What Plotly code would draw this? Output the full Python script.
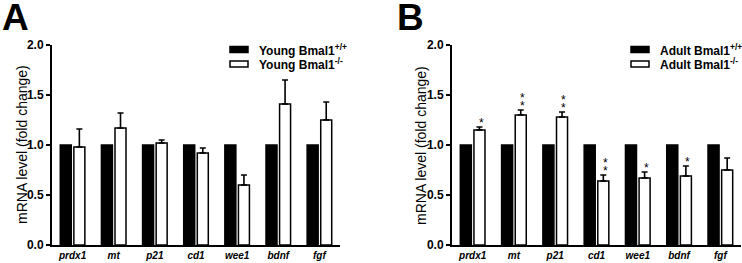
import plotly.graph_objects as go

W, H = 742, 263

genes = ["prdx1", "mt", "p21", "cd1", "wee1", "bdnf", "fgf"]
ctrl_values = [1, 1, 1, 1, 1, 1, 1]
young_ko = [0.98, 1.17, 1.02, 0.92, 0.60, 1.41, 1.25]
young_ko_err = [0.18, 0.15, 0.03, 0.05, 0.10, 0.24, 0.18]
adult_ko = [1.15, 1.30, 1.28, 0.64, 0.67, 0.69, 0.75]
adult_ko_err = [0.03, 0.05, 0.05, 0.06, 0.06, 0.10, 0.12]
adult_sig = ["*", "**", "**", "**", "*", "*", ""]
y_ticks = [0.0, 0.5, 1.0, 1.5, 2.0]
legend_a = ["Young Bmal1<sup>+/+</sup>", "Young Bmal1<sup>-/-</sup>"]
legend_b = ["Adult Bmal1<sup>+/+</sup>", "Adult Bmal1<sup>-/-</sup>"]
panel_labels = ["A", "B"]
y_title = "mRNA level (fold change)"

FONT = "Liberation Sans, Arial, sans-serif"

def px_x(x):
    return x / W

def px_y(y):
    return 1 - y / H

fig = go.Figure()

panels = [
    dict(xa="x", ya="y", ko=young_ko, err=young_ko_err),
    dict(xa="x2", ya="y2", ko=adult_ko, err=adult_ko_err),
]

for p in panels:
    fig.add_trace(go.Bar(
        x=genes, y=ctrl_values, xaxis=p["xa"], yaxis=p["ya"],
        marker=dict(color="black", line=dict(color="black", width=1.5)),
        showlegend=False,
    ))
    fig.add_trace(go.Bar(
        x=genes, y=p["ko"], xaxis=p["xa"], yaxis=p["ya"],
        marker=dict(color="white", line=dict(color="black", width=1.5)),
        error_y=dict(type="data", symmetric=False, array=p["err"],
                     arrayminus=[0] * len(genes), color="black",
                     thickness=1.6, width=3),
        showlegend=False,
    ))

ydom = [px_y(245), px_y(45)]
axis_common = dict(showline=True, linecolor="black", linewidth=2,
                   showgrid=False, zeroline=False, automargin=False)
xtickfont = dict(size=10, style="italic", weight="bold")
ytick_common = dict(range=[0, 2], tickvals=y_ticks,
                    ticktext=[f"{v:.1f}" for v in y_ticks], ticks="outside",
                    ticklen=4, tickwidth=1.5, tickcolor="black",
                    tickfont=dict(size=12, weight="bold"))

fig.update_layout(
    width=W, height=H,
    margin=dict(l=0, r=0, t=0, b=0, autoexpand=False),
    paper_bgcolor="white", plot_bgcolor="white",
    barmode="group", bargap=0.34, bargroupgap=0.19,
    font=dict(family=FONT, color="black"),
    xaxis=dict(domain=[px_x(52), px_x(340)], anchor="y", range=[-0.5, 6.5],
               ticks="", tickfont=xtickfont, **axis_common),
    yaxis=dict(domain=ydom, anchor="x", **ytick_common, **axis_common),
    xaxis2=dict(domain=[px_x(452), px_x(741)], anchor="y2", range=[-0.5, 6.5],
                ticks="", tickfont=xtickfont, **axis_common),
    yaxis2=dict(domain=ydom, anchor="x2", **ytick_common, **axis_common),
)

annotations = []
shapes = []

# significance stars (panel B)
for g, v, e, s in zip(genes, adult_ko, adult_ko_err, adult_sig):
    for k in range(len(s)):
        annotations.append(dict(
            x=g, y=v + e, xref="x2", yref="y2", text="*", showarrow=False,
            xshift=8.5, yshift=4 + 8 * k, yanchor="middle",
            font=dict(size=12, color="black"),
        ))

# panel labels
for lab, xp in zip(panel_labels, [0, 395]):
    annotations.append(dict(
        x=px_x(xp), y=px_y(17), xref="paper", yref="paper", text=f"<b>{lab}</b>",
        showarrow=False, xanchor="left", yanchor="middle",
        font=dict(size=37, color="black"),
    ))

# y axis titles
for xc in [22, 421]:
    annotations.append(dict(
        x=px_x(xc), y=px_y(145), xref="paper", yref="paper", text=y_title,
        showarrow=False, textangle=-90, xanchor="center", yanchor="middle",
        font=dict(size=14, color="black"),
    ))

# legends
for leg, x0 in zip([legend_a, legend_b], [230, 631]):
    for i, (txt, fill) in enumerate(zip(leg, ["black", "white"])):
        yc = 49.5 + 14.5 * i
        shapes.append(dict(
            type="rect", xref="paper", yref="paper",
            x0=px_x(x0), x1=px_x(x0 + 18), y0=px_y(yc - 3), y1=px_y(yc + 3),
            fillcolor=fill, line=dict(color="black", width=1.5),
        ))
        annotations.append(dict(
            x=px_x(x0 + 27), y=px_y(yc), xref="paper", yref="paper",
            text=f"<b>{txt}</b>", showarrow=False, xanchor="left",
            yanchor="middle", font=dict(size=12, color="black"),
        ))

fig.update_layout(annotations=annotations, shapes=shapes)

fig.write_html(
    "out.html",
    config={"displayModeBar": False},
    post_script="document.body.style.margin='0px';"
                "document.documentElement.style.overflow='hidden';",
)
